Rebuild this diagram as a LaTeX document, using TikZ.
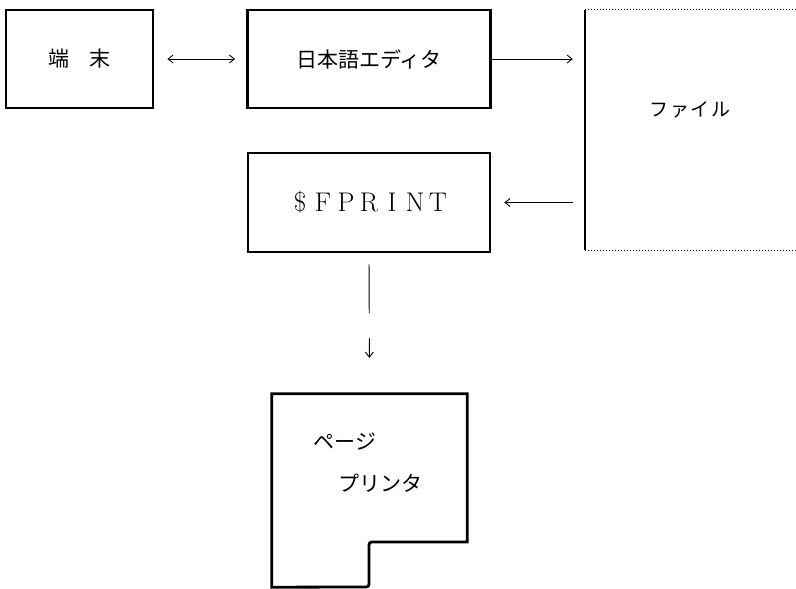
\documentclass[tikz,border=0pt]{standalone}
\usepackage{fontspec}
\newfontfamily\jp{Noto Sans CJK JP}
\usetikzlibrary{arrows.meta}
\newcommand{\lsp}[1]{\makebox[23pt]{#1}}
\begin{document}
\begin{tikzpicture}[x=1pt,y=-1pt,
  boxed/.style={draw,line width=2.8pt,inner sep=0pt,font=\jp\fontsize{21}{24}\selectfont},
  conn/.style={line width=0.9pt},
  tip/.style={-{Straight Barb[length=5pt,width=8pt,line width=0.9pt]}},
  jtext/.style={inner sep=0pt,font=\jp\fontsize{21}{24}\selectfont}]
\useasboundingbox (0,0) rectangle (796,589);
\node[boxed,minimum width=147pt,minimum height=98pt] (term) at (79.5,59) {端　末};
\node[boxed,minimum width=243pt,minimum height=98pt] (ed) at (369,59) {日本語エディタ};
\node[boxed,minimum width=242pt,minimum height=99pt] (fp) at (369,202.5)
  {\fontspec{Latin Modern Roman}\fontsize{27}{30}\selectfont\lsp{\$}\lsp{F}\lsp{P}\lsp{R}\lsp{I}\lsp{N}\lsp{T}};
\node[inner sep=0pt,minimum width=230pt,minimum height=240pt] (file) at (700,130) {};
\node[jtext,font=\jp\fontsize{19}{22}\selectfont] (filelabel) at (690,110) {\addfontfeature{LetterSpace=8}ファイル};
\draw[line width=1.4pt] (file.north west) -- (file.south west);
\draw[line width=1.2pt,dash pattern=on 1.2pt off 1.8pt] (file.north west) -- (file.north east);
\draw[line width=1.2pt,dash pattern=on 1.2pt off 1.8pt] (file.south west) -- (file.south east);
\node[inner sep=0pt,minimum width=195pt,minimum height=193pt] (pr) at (369.5,490.5) {};
\draw[line width=2.8pt,line join=miter]
  (pr.north west) -- (pr.north east) -- (pr.east |- 0,542) -- (375,542)
  .. controls (369,542) .. (369,548) -- (369,581)
  .. controls (369,587) .. (363,587) -- (pr.south west) -- cycle;
\node[jtext] (p1) at (345,442) {ページ};
\node[jtext] (p2) at (380,483) {プリンタ};
\draw[conn,{Straight Barb[length=5pt,width=8pt,line width=0.9pt]}-{Straight Barb[length=5pt,width=8pt,line width=0.9pt]},shorten <=13pt,shorten >=11pt] (term.east) -- (ed.west);
\draw[conn,tip,shorten >=12pt] (ed.east) -- (file.west |- ed.east);
\draw[conn,tip,shorten <=12pt,shorten >=13pt] (file.west |- fp.east) -- (fp.east);
\draw[conn,tip,shorten <=11pt,shorten >=36pt,dash pattern=on 49pt off 25pt on 60pt] (fp.south) -- (pr.north);
\end{tikzpicture}
\end{document}
